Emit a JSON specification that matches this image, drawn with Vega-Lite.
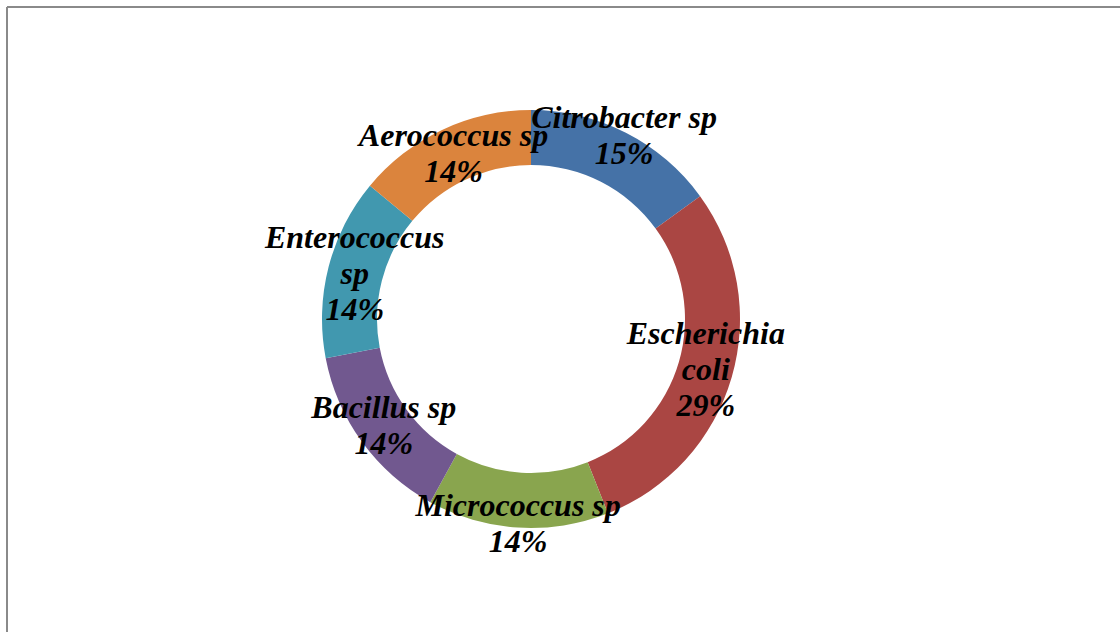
{
  "$schema": "https://vega.github.io/schema/vega-lite/v6.json",
  "width": 1120,
  "height": 632,
  "autosize": {"type": "fit", "contains": "padding"},
  "padding": {"left": 7, "top": 7, "right": 0, "bottom": 0},
  "background": "white",
  "view": {"stroke": "#8a8a8a", "strokeWidth": 2, "strokeDash": [1113, 1738, 625, 0]},
  "data": {
    "values": [
      {"idx": 1, "name": "Citrobacter sp", "disp": "Citrobacter sp", "pct": 15},
      {"idx": 2, "name": "Escherichia coli", "disp": "Escherichia\ncoli", "pct": 29},
      {"idx": 3, "name": "Micrococcus sp", "disp": "Micrococcus sp", "pct": 14},
      {"idx": 4, "name": "Bacillus sp", "disp": "Bacillus sp", "pct": 14},
      {"idx": 5, "name": "Enterococcus sp", "disp": "Enterococcus\nsp", "pct": 14},
      {"idx": 6, "name": "Aerococcus sp", "disp": "Aerococcus sp", "pct": 14}
    ]
  },
  "transform": [
    {"calculate": "datum.disp + '\\n' + datum.pct + '%'", "as": "label"}
  ],
  "encoding": {
    "theta": {"field": "pct", "type": "quantitative", "stack": true},
    "order": {"field": "idx", "type": "quantitative"}
  },
  "layer": [
    {
      "mark": {"type": "arc", "x": 524, "y": 312, "outerRadius": 209, "innerRadius": 154},
      "encoding": {
        "color": {
          "field": "name",
          "type": "nominal",
          "legend": null,
          "scale": {
            "domain": ["Citrobacter sp", "Escherichia coli", "Micrococcus sp", "Bacillus sp", "Enterococcus sp", "Aerococcus sp"],
            "range": ["#4572A7", "#AA4643", "#89A54E", "#71588F", "#4198AF", "#DB843D"]
          }
        }
      }
    },
    {
      "mark": {
        "type": "text", "x": 524, "y": 312, "radius": 182, "dy": -36,
        "font": "Liberation Serif", "fontSize": 32, "fontStyle": "italic", "fontWeight": "bold",
        "lineBreak": "\n", "lineHeight": 36, "align": "center", "baseline": "middle", "color": "black"
      },
      "encoding": {
        "text": {
          "condition": {"test": "indexof(datum.disp, '\\n') >= 0", "field": "label"},
          "value": ""
        }
      }
    },
    {
      "mark": {
        "type": "text", "x": 524, "y": 312, "radius": 182, "dy": -18,
        "font": "Liberation Serif", "fontSize": 32, "fontStyle": "italic", "fontWeight": "bold",
        "lineBreak": "\n", "lineHeight": 36, "align": "center", "baseline": "middle", "color": "black"
      },
      "encoding": {
        "text": {
          "condition": {"test": "datum.name === 'Bacillus sp' || datum.name === 'Aerococcus sp'", "field": "label"},
          "value": ""
        }
      }
    },
    {
      "mark": {
        "type": "text", "x": 524, "y": 312, "radius": 205, "dy": -18,
        "font": "Liberation Serif", "fontSize": 32, "fontStyle": "italic", "fontWeight": "bold",
        "lineBreak": "\n", "lineHeight": 36, "align": "center", "baseline": "middle", "color": "black"
      },
      "encoding": {
        "text": {
          "condition": {"test": "datum.name === 'Citrobacter sp' || datum.name === 'Micrococcus sp'", "field": "label"},
          "value": ""
        }
      }
    }
  ]
}
